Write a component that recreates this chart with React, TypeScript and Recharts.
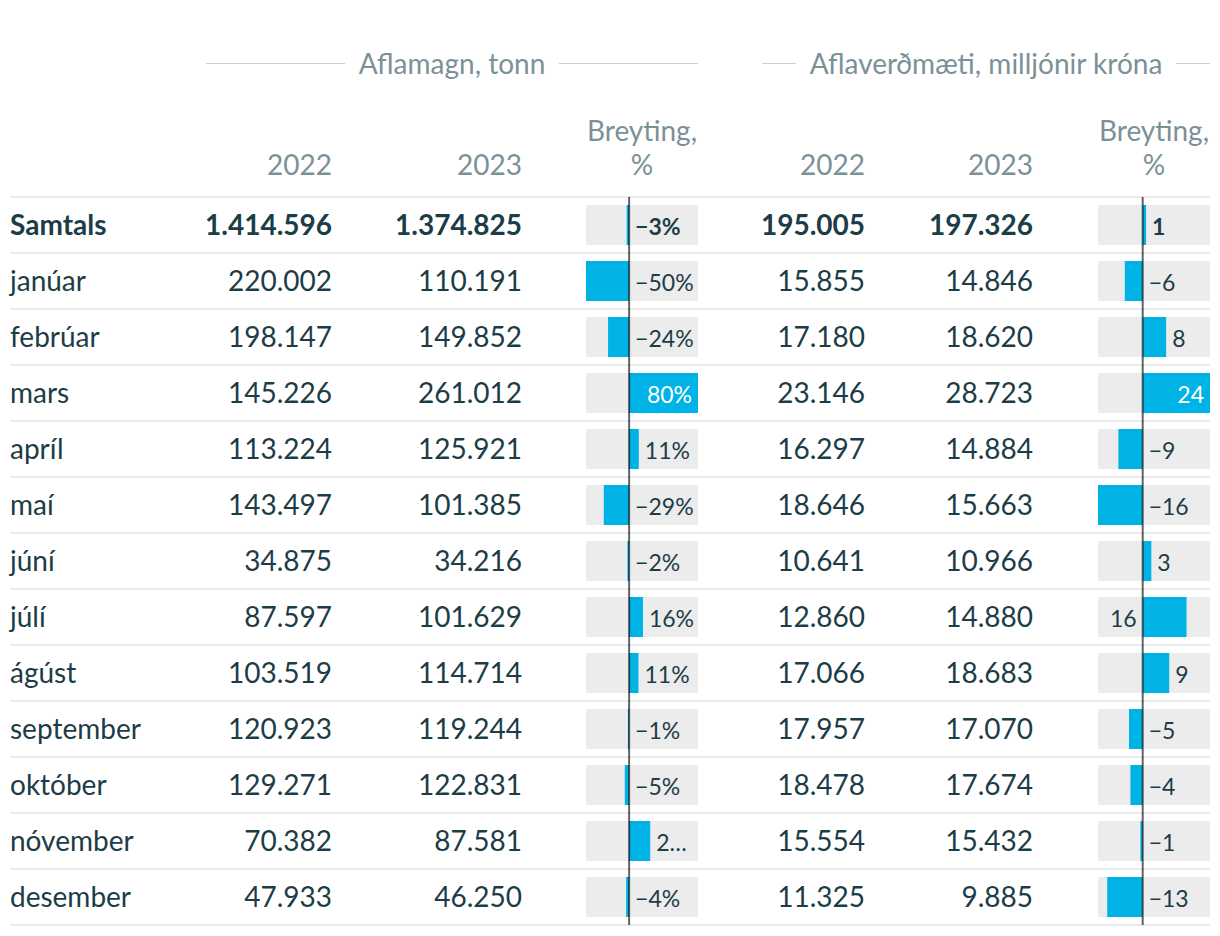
import React from "react";
import { BarChart, Bar, XAxis, YAxis, ReferenceLine, LabelList } from "recharts";

const months = ["Samtals", "janúar", "febrúar", "mars", "apríl", "maí", "júní", "júlí", "ágúst", "september", "október", "nóvember", "desember"];
const tonn2022 = ["1.414.596", "220.002", "198.147", "145.226", "113.224", "143.497", "34.875", "87.597", "103.519", "120.923", "129.271", "70.382", "47.933"];
const tonn2023 = ["1.374.825", "110.191", "149.852", "261.012", "125.921", "101.385", "34.216", "101.629", "114.714", "119.244", "122.831", "87.581", "46.250"];
const tonnChange = [-2.8, -49.9, -24.4, 79.7, 11.2, -29.3, -1.9, 16.0, 10.8, -1.4, -5.0, 24.4, -3.5];
const tonnLabels = ["−3%", "−50%", "−24%", "80%", "11%", "−29%", "−2%", "16%", "11%", "−1%", "−5%", "2…", "−4%"];
const kr2022 = ["195.005", "15.855", "17.180", "23.146", "16.297", "18.646", "10.641", "12.860", "17.066", "17.957", "18.478", "15.554", "11.325"];
const kr2023 = ["197.326", "14.846", "18.620", "28.723", "14.884", "15.663", "10.966", "14.880", "18.683", "17.070", "17.674", "15.432", "9.885"];
const krChange = [1.2, -6.4, 8.4, 24.1, -8.7, -16.0, 3.1, 15.7, 9.5, -4.9, -4.4, -0.8, -12.7];
const krLabels = ["1", "−6", "8", "24", "−9", "−16", "3", "16", "9", "−5", "−4", "−1", "−13"];

const TEXT = "#1c3c47";
const MUTED = "#7b9197";
const RULE = "#ebebeb";
const BLUE = "#00b3e7";
const FONT = "Lato, 'Noto Sans', sans-serif";
const FS = 28;
const LABEL_FS = 23;

const ROW_TOP = 197;
const ROW_H = 56;
const CELL_W = 112;

let ctx: CanvasRenderingContext2D | null = null;
function textWidth(s: string, bold: boolean) {
  if (!ctx) ctx = document.createElement("canvas").getContext("2d");
  if (!ctx) return s.length * 12;
  ctx.font = `${bold ? "bold " : ""}${LABEL_FS}px Lato`;
  return ctx.measureText(s).width;
}

// label placement roughly like the original: outside the bar end if it fits,
// inside when the bar is long, otherwise on the other side of zero
const makeLabel = (labels: string[]) => (props: any) => {
  const { x, y, width, height, index } = props;
  const text = labels[index];
  const bold = index === 0;
  const left = Math.min(x, x + width);
  const right = Math.max(x, x + width);
  const w = Math.abs(width);
  const value = props.value as number;
  const pad = 6;
  const tw = textWidth(text, bold);
  const cy = y + height / 2 + 2;
  let tx = 0;
  let anchor: "start" | "end" = "start";
  let fill = TEXT;
  if (value < 0) {
    tx = right + pad;
  } else if (right + pad + tw <= CELL_W) {
    tx = right + pad;
  } else if (w >= CELL_W / 2) {
    tx = right - pad;
    anchor = "end";
    fill = "#fff";
  } else {
    tx = left - pad;
    anchor = "end";
  }
  return (
    <text x={tx} y={cy} dy="0.36em" textAnchor={anchor} fill={fill} fontSize={LABEL_FS} fontFamily={FONT} fontWeight={bold ? 700 : 400}>
      {text}
    </text>
  );
};

function ChangeBars({ values, labels, left }: { values: number[]; labels: string[]; left: number }) {
  const data = months.map((m, i) => ({ name: m, v: values[i] }));
  return (
    <div style={{ position: "absolute", left, top: ROW_TOP, width: CELL_W, height: ROW_H * months.length }}>
      <BarChart width={CELL_W} height={ROW_H * months.length} data={data} layout="vertical" margin={{ top: 0, right: 0, bottom: 0, left: 0 }}>
        <XAxis type="number" hide domain={["dataMin", "dataMax"]} />
        <YAxis type="category" dataKey="name" hide />
        <Bar dataKey="v" fill={BLUE} barSize={40} background={{ fill: "#ececec" }} isAnimationActive={false}>
          <LabelList dataKey="v" content={makeLabel(labels)} />
        </Bar>
        <ReferenceLine x={0} stroke="#000" strokeOpacity={0.62} strokeWidth={2} />
      </BarChart>
    </div>
  );
}

function GroupTitle({ title, left, right }: { title: string; left: number; right: number }) {
  return (
    <div style={{ position: "absolute", left, width: right - left, top: 45, height: 36, display: "flex", alignItems: "center", color: MUTED, fontSize: FS }}>
      <div style={{ flex: 1, height: 1, background: "#c9d1d3" }} />
      <div style={{ padding: "0 14px", whiteSpace: "nowrap" }}>{title}</div>
      <div style={{ flex: 1, height: 1, background: "#c9d1d3" }} />
    </div>
  );
}

const cell = (right: number, width: number, text: string, bold: boolean, top: number) => (
  <div style={{ position: "absolute", left: right - width, width, top, height: ROW_H, lineHeight: ROW_H + "px", textAlign: "right", fontWeight: bold ? 700 : 400 }}>
    {text}
  </div>
);

export default function App() {
  return (
    <div style={{ position: "absolute", left: 0, top: 0, width: 1220, height: 936, background: "#fff", fontFamily: FONT, fontSize: FS, color: TEXT }}>
      <GroupTitle title="Aflamagn, tonn" left={206} right={698} />
      <GroupTitle title="Aflaverðmæti, milljónir króna" left={762} right={1210} />

      {/* column headers */}
      <div style={{ color: MUTED, fontSize: FS, lineHeight: "34px" }}>
        <div style={{ position: "absolute", right: 1220 - 332, top: 147 }}>2022</div>
        <div style={{ position: "absolute", right: 1220 - 522, top: 147 }}>2023</div>
        <div style={{ position: "absolute", left: 586, width: CELL_W, top: 113, textAlign: "center" }}>
          Breyting,<br />%
        </div>
        <div style={{ position: "absolute", right: 1220 - 865, top: 147 }}>2022</div>
        <div style={{ position: "absolute", right: 1220 - 1033, top: 147 }}>2023</div>
        <div style={{ position: "absolute", left: 1098, width: CELL_W, top: 113, textAlign: "center" }}>
          Breyting,<br />%
        </div>
      </div>

      {months.map((m, i) => {
        const top = ROW_TOP + ROW_H * i - 1;
        const bold = i === 0;
        return (
          <React.Fragment key={m}>
            <div style={{ position: "absolute", left: 10, width: 1200, top, height: 2, background: RULE }} />
            <div style={{ position: "absolute", left: 10, top, height: ROW_H, lineHeight: ROW_H + "px", fontWeight: bold ? 700 : 400 }}>{m}</div>
            {cell(332, 180, tonn2022[i], bold, top)}
            {cell(522, 180, tonn2023[i], bold, top)}
            {cell(865, 180, kr2022[i], bold, top)}
            {cell(1033, 180, kr2023[i], bold, top)}
          </React.Fragment>
        );
      })}
      <div style={{ position: "absolute", left: 10, width: 1200, top: ROW_TOP + ROW_H * months.length - 1, height: 2, background: RULE }} />

      <ChangeBars values={tonnChange} labels={tonnLabels} left={586} />
      <ChangeBars values={krChange} labels={krLabels} left={1098} />
    </div>
  );
}
